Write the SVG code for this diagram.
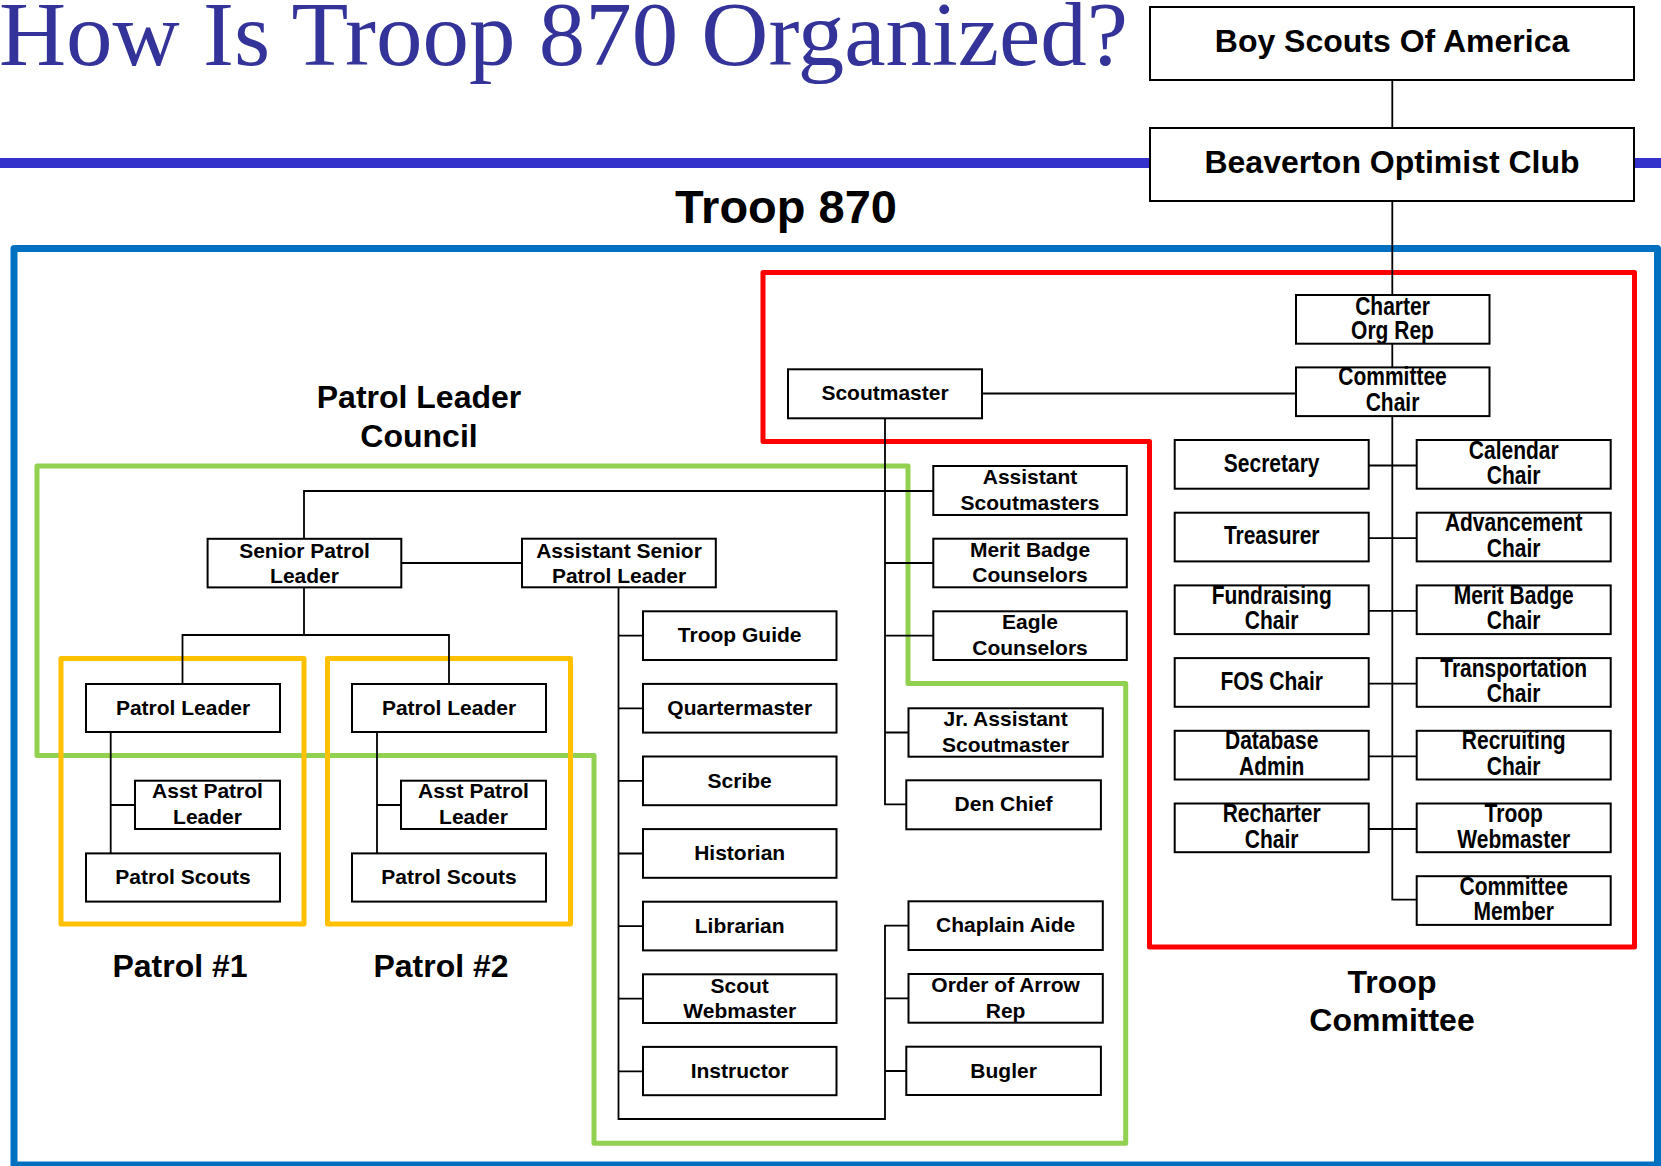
<svg xmlns="http://www.w3.org/2000/svg" width="1661" height="1166" viewBox="0 0 1661 1166">
<style>
.bx{fill:#fff;stroke:#000;stroke-width:2}
.t{font-family:"Liberation Sans",Arial,sans-serif;font-weight:bold;font-size:21px;fill:#000;text-anchor:middle}
.big{font-family:"Liberation Sans",Arial,sans-serif;font-weight:bold;font-size:32px;fill:#000;text-anchor:middle}
.cn{fill:none;stroke:#000;stroke-width:1.8}
.fr{fill:none;stroke-linejoin:round}
</style>
<rect width="1661" height="1166" fill="#fff"/>
<text x="-1" y="65" font-family="'Liberation Serif','Times New Roman',serif" font-size="91" fill="#333399" textLength="1129" lengthAdjust="spacingAndGlyphs">How Is Troop 870 Organized?</text>
<rect x="0" y="158" width="1661" height="10" fill="#3333CC"/>
<text class="big" x="786" y="223" font-size="47" style="font-size:47px">Troop 870</text>
<text class="big" x="419" y="408">Patrol Leader</text>
<text class="big" x="419" y="447">Council</text>
<text class="big" x="180" y="977">Patrol #1</text>
<text class="big" x="441" y="977">Patrol #2</text>
<text class="big" x="1392" y="993">Troop</text>
<text class="big" x="1392" y="1031">Committee</text>

<g id="frames">
<rect class="fr" x="14" y="248.5" width="1643.5" height="916.5" stroke="#0070C0" stroke-width="7"/>
<path class="fr" d="M763 272.5 H1634.5 V947 H1149.5 V441.5 H763 Z" stroke="#FF0000" stroke-width="5"/>
<path class="fr" d="M37 466 H908 V683.5 H1125.7 V1143.3 H594 V755.5 H37 Z" stroke="#92D050" stroke-width="5"/>
<rect class="fr" x="61" y="658.6" width="243" height="265.4" stroke="#FFC000" stroke-width="5"/>
<rect class="fr" x="327.5" y="658.6" width="243" height="265.4" stroke="#FFC000" stroke-width="5"/>
</g>

<g id="connectors">
<path class="cn" d="M1392.3 80 V899.6 H1416.7"/>
<path class="cn" d="M1368.7 465.5 H1416.7 M1368.7 538.2 H1416.7 M1368.7 610.9 H1416.7 M1368.7 683.6 H1416.7 M1368.7 756.3 H1416.7 M1368.7 829 H1416.7"/>
<path class="cn" d="M982 393.5 H1296"/>
<path class="cn" d="M885 418.3 V804.3 H906.3"/>
<path class="cn" d="M304 538.8 V491 H933.3"/>
<path class="cn" d="M885 563 H933.3 M885 635.7 H933.3 M885 732.5 H908.5"/>
<path class="cn" d="M401.3 563 H522"/>
<path class="cn" d="M304 587.4 V635 M182.5 684 V635 H449 V684"/>
<path class="cn" d="M110.7 732 V853.4 M110.7 805 H135 M377 732 V853.4 M377 805 H401"/>
<path class="cn" d="M618.5 587.3 V1119 H885 V925.7 H908.5"/>
<path class="cn" d="M618.5 635.7 H643 M618.5 708.3 H643 M618.5 780.9 H643 M618.5 853.5 H643 M618.5 926.1 H643 M618.5 998.7 H643 M618.5 1071.3 H643"/>
<path class="cn" d="M885 998.3 H908.5 M885 1071 H906.3"/>
</g>

<g id="bsa"><rect class="bx" x="1150" y="7" width="484" height="73"/><text class="big" x="1392" y="52">Boy Scouts Of America</text></g>
<g id="boc"><rect class="bx" x="1150" y="128" width="484" height="73"/><text class="big" x="1392" y="173">Beaverton Optimist Club</text></g>

<g id="charter"><rect class="bx" x="1296" y="295" width="193.5" height="48.7"/>
<text class="t" transform="translate(1392.5,314.7) scale(1,1.22)">Charter</text>
<text class="t" transform="translate(1392.5,339.3) scale(1,1.22)">Org Rep</text></g>
<g id="cchair"><rect class="bx" x="1296" y="367.4" width="193.5" height="48.7"/>
<text class="t" transform="translate(1392.5,385) scale(1,1.22)">Committee</text>
<text class="t" transform="translate(1392.5,410.7) scale(1,1.22)">Chair</text></g>

<g id="secretary"><rect class="bx" x="1174.7" y="440" width="194" height="48.7"/>
<text class="t" transform="translate(1271.7,471.5) scale(1,1.22)">Secretary</text></g>
<g id="treasurer"><rect class="bx" x="1174.7" y="512.7" width="194" height="48.7"/>
<text class="t" transform="translate(1271.7,544.2) scale(1,1.22)">Treasurer</text></g>
<g id="fundraising"><rect class="bx" x="1174.7" y="585.4" width="194" height="48.7"/>
<text class="t" transform="translate(1271.7,603.9) scale(1,1.22)">Fundraising</text>
<text class="t" transform="translate(1271.7,629.4) scale(1,1.22)">Chair</text></g>
<g id="fos"><rect class="bx" x="1174.7" y="658.1" width="194" height="48.7"/>
<text class="t" transform="translate(1271.7,689.6) scale(1,1.22)">FOS Chair</text></g>
<g id="database"><rect class="bx" x="1174.7" y="730.8" width="194" height="48.7"/>
<text class="t" transform="translate(1271.7,749.3) scale(1,1.22)">Database</text>
<text class="t" transform="translate(1271.7,774.8) scale(1,1.22)">Admin</text></g>
<g id="recharter"><rect class="bx" x="1174.7" y="803.5" width="194" height="48.7"/>
<text class="t" transform="translate(1271.7,822) scale(1,1.22)">Recharter</text>
<text class="t" transform="translate(1271.7,847.5) scale(1,1.22)">Chair</text></g>

<g id="calendar"><rect class="bx" x="1416.7" y="440" width="194" height="48.7"/>
<text class="t" transform="translate(1513.7,458.5) scale(1,1.22)">Calendar</text>
<text class="t" transform="translate(1513.7,484) scale(1,1.22)">Chair</text></g>
<g id="advancement"><rect class="bx" x="1416.7" y="512.7" width="194" height="48.7"/>
<text class="t" transform="translate(1513.7,531.2) scale(1,1.22)">Advancement</text>
<text class="t" transform="translate(1513.7,556.7) scale(1,1.22)">Chair</text></g>
<g id="mbchair"><rect class="bx" x="1416.7" y="585.4" width="194" height="48.7"/>
<text class="t" transform="translate(1513.7,603.9) scale(1,1.22)">Merit Badge</text>
<text class="t" transform="translate(1513.7,629.4) scale(1,1.22)">Chair</text></g>
<g id="transport"><rect class="bx" x="1416.7" y="658.1" width="194" height="48.7"/>
<text class="t" transform="translate(1513.7,676.6) scale(1,1.22)">Transportation</text>
<text class="t" transform="translate(1513.7,702.1) scale(1,1.22)">Chair</text></g>
<g id="recruiting"><rect class="bx" x="1416.7" y="730.8" width="194" height="48.7"/>
<text class="t" transform="translate(1513.7,749.3) scale(1,1.22)">Recruiting</text>
<text class="t" transform="translate(1513.7,774.8) scale(1,1.22)">Chair</text></g>
<g id="troopweb"><rect class="bx" x="1416.7" y="803.5" width="194" height="48.7"/>
<text class="t" transform="translate(1513.7,822) scale(1,1.22)">Troop</text>
<text class="t" transform="translate(1513.7,847.5) scale(1,1.22)">Webmaster</text></g>
<g id="cmember"><rect class="bx" x="1416.7" y="876.2" width="194" height="48.7"/>
<text class="t" transform="translate(1513.7,894.7) scale(1,1.22)">Committee</text>
<text class="t" transform="translate(1513.7,920.2) scale(1,1.22)">Member</text></g>

<g id="scoutmaster"><rect class="bx" x="788" y="369.3" width="194" height="49"/><text class="t" x="885" y="400.3">Scoutmaster</text></g>
<g id="asm"><rect class="bx" x="933.3" y="466" width="193.5" height="49"/><text class="t" x="1030" y="483.5">Assistant</text><text class="t" x="1030" y="509.5">Scoutmasters</text></g>
<g id="mbc"><rect class="bx" x="933.3" y="538.7" width="193.5" height="48.6"/><text class="t" x="1030" y="556.5">Merit Badge</text><text class="t" x="1030" y="582">Counselors</text></g>
<g id="ec"><rect class="bx" x="933.3" y="611.3" width="193.5" height="48.7"/><text class="t" x="1030" y="628.8">Eagle</text><text class="t" x="1030" y="654.5">Counselors</text></g>
<g id="jrasm"><rect class="bx" x="908.5" y="708.3" width="194.3" height="48.4"/><text class="t" x="1005.6" y="725.8">Jr. Assistant</text><text class="t" x="1005.6" y="751.6">Scoutmaster</text></g>
<g id="denchief"><rect class="bx" x="906.3" y="780.3" width="194.6" height="49"/><text class="t" x="1003.6" y="811.3">Den Chief</text></g>
<g id="chaplain"><rect class="bx" x="908.5" y="901.3" width="194.3" height="48.7"/><text class="t" x="1005.6" y="932.3">Chaplain Aide</text></g>
<g id="oa"><rect class="bx" x="908.5" y="974" width="194.3" height="48.7"/><text class="t" x="1005.6" y="992.3">Order of Arrow</text><text class="t" x="1005.6" y="1017.8">Rep</text></g>
<g id="bugler"><rect class="bx" x="906.3" y="1046.7" width="194.6" height="48.3"/><text class="t" x="1003.6" y="1077.7">Bugler</text></g>

<g id="troopguide"><rect class="bx" x="643" y="611.3" width="193.5" height="48.7"/><text class="t" x="739.7" y="642.3">Troop Guide</text></g>
<g id="quartermaster"><rect class="bx" x="643" y="683.9" width="193.5" height="48.7"/><text class="t" x="739.7" y="714.9">Quartermaster</text></g>
<g id="scribe"><rect class="bx" x="643" y="756.5" width="193.5" height="48.7"/><text class="t" x="739.7" y="787.5">Scribe</text></g>
<g id="historian"><rect class="bx" x="643" y="829.1" width="193.5" height="48.7"/><text class="t" x="739.7" y="860.1">Historian</text></g>
<g id="librarian"><rect class="bx" x="643" y="901.7" width="193.5" height="48.7"/><text class="t" x="739.7" y="932.7">Librarian</text></g>
<g id="scoutweb"><rect class="bx" x="643" y="974.3" width="193.5" height="48.7"/><text class="t" x="739.7" y="992.5">Scout</text><text class="t" x="739.7" y="1018">Webmaster</text></g>
<g id="instructor"><rect class="bx" x="643" y="1046.9" width="193.5" height="48.3"/><text class="t" x="739.7" y="1077.9">Instructor</text></g>

<g id="spl"><rect class="bx" x="207.6" y="538.8" width="193.7" height="48.6"/><text class="t" x="304.5" y="557.8">Senior Patrol</text><text class="t" x="304.5" y="582.8">Leader</text></g>
<g id="aspl"><rect class="bx" x="522" y="538.7" width="193.8" height="48.6"/><text class="t" x="619" y="557.7">Assistant Senior</text><text class="t" x="619" y="582.7">Patrol Leader</text></g>
<g id="pl1"><rect class="bx" x="86" y="684" width="194" height="48"/><text class="t" x="183" y="715">Patrol Leader</text></g>
<g id="apl1"><rect class="bx" x="135" y="780.7" width="145" height="48.3"/><text class="t" x="207.5" y="798">Asst Patrol</text><text class="t" x="207.5" y="824">Leader</text></g>
<g id="ps1"><rect class="bx" x="86" y="853.4" width="194" height="48.2"/><text class="t" x="183" y="884.4">Patrol Scouts</text></g>
<g id="pl2"><rect class="bx" x="352" y="684" width="194" height="48"/><text class="t" x="449" y="715">Patrol Leader</text></g>
<g id="apl2"><rect class="bx" x="401" y="780.7" width="145" height="48.3"/><text class="t" x="473.5" y="798">Asst Patrol</text><text class="t" x="473.5" y="824">Leader</text></g>
<g id="ps2"><rect class="bx" x="352" y="853.4" width="194" height="48.2"/><text class="t" x="449" y="884.4">Patrol Scouts</text></g>
</svg>
